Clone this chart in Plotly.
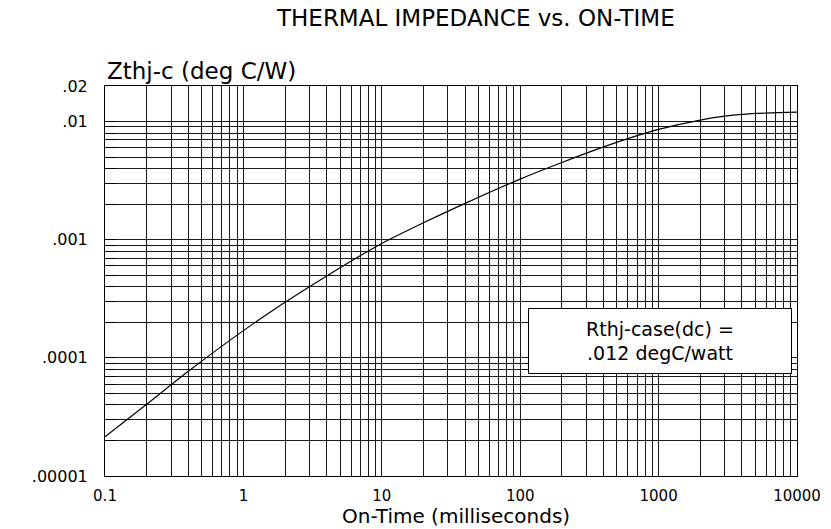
import plotly.graph_objects as go

# ---- data ----
on_time_ms = [0.1, 0.2, 0.4, 1, 2, 3, 5, 10, 20, 40, 100, 200, 400, 700, 1000, 2000, 3000, 4000, 6000, 10000]
zthjc = [2.15e-5, 4.05e-5, 7.7e-5, 1.70e-4, 2.95e-4, 4.0e-4, 5.8e-4, 9.3e-4, 1.39e-3, 2.03e-3,
         3.26e-3, 4.5e-3, 6.1e-3, 7.6e-3, 8.6e-3, 1.03e-2, 1.11e-2, 1.15e-2, 1.18e-2, 1.2e-2]

x_decades = [0.1, 1, 10, 100, 1000, 10000]
x_tick_labels = ["0.1", "1", "10", "100", "1000", "10000"]
y_decades = [1e-5, 1e-4, 1e-3, 1e-2, 2e-2]
y_tick_labels = [".00001", ".0001", ".001", ".01", ".02"]

title_text = "THERMAL IMPEDANCE vs. ON-TIME"
x_title = "On-Time (milliseconds)"
y_title = "Zthj-c (deg C/W)"
note_text = "Rthj-case(dc) =<br>.012 degC/watt"

# minor grid positions (1..9 per decade)
x_grid = sorted(set([round(m * d, 6) for d in x_decades[:-1] for m in range(1, 10)] + x_decades))
y_grid = sorted(set([m * d for d in [1e-5, 1e-4, 1e-3] for m in range(1, 10)] + y_decades))

def label_for(v, decades, labels):
    for d, l in zip(decades, labels):
        if abs(v - d) / d < 1e-6:
            return l
    return ""

x_text = [label_for(v, x_decades, x_tick_labels) for v in x_grid]
y_text = [label_for(v, y_decades, y_tick_labels) for v in y_grid]

FONT = "DejaVu Sans"

fig = go.Figure()
fig.add_trace(go.Scatter(
    x=on_time_ms, y=zthjc, mode="lines",
    line=dict(color="black", width=1.2, shape="spline", smoothing=0.8),
    showlegend=False, hoverinfo="skip"))

fig.update_layout(
    width=831, height=529,
    margin=dict(l=105, r=34, t=86, b=53, autoexpand=False),
    paper_bgcolor="white", plot_bgcolor="white",
    font=dict(family=FONT, color="black", size=15),
    showlegend=False,
)

fig.update_xaxes(
    type="log", range=[-1, 4], automargin=False,
    tickmode="array", tickvals=x_grid, ticktext=x_text,
    showgrid=True, gridcolor="#1a1a1a", gridwidth=1,
    showline=True, linecolor="black", linewidth=1, mirror=True,
    ticks="", tickfont=dict(size=15, family=FONT),
    ticklabelstandoff=6, zeroline=False,
)
fig.update_yaxes(
    type="log", range=[-5, 1.30103 - 3], automargin=False,
    tickmode="array", tickvals=y_grid, ticktext=y_text,
    showgrid=True, gridcolor="#1a1a1a", gridwidth=1,
    showline=True, linecolor="black", linewidth=1, mirror=True,
    ticks="inside", ticklen=10, tickcolor="black",
    tickfont=dict(size=16, family=FONT),
    ticklabelstandoff=13, zeroline=False,
)

fig.add_annotation(text=title_text, xref="paper", yref="paper", x=0.535, y=1,
                   xanchor="center", yanchor="middle", yshift=86 - 18,
                   showarrow=False, font=dict(size=23, family=FONT))
fig.add_annotation(text=y_title, xref="paper", yref="paper", x=0, y=1,
                   xanchor="left", yanchor="bottom", yshift=0, xshift=0,
                   showarrow=False, font=dict(size=23, family=FONT))
fig.add_annotation(text=x_title, xref="paper", yref="paper", x=0.507, y=0,
                   xanchor="center", yanchor="middle", yshift=-40,
                   showarrow=False, font=dict(size=20, family=FONT))
fig.add_annotation(text=note_text, xref="x", yref="y", x=3.01, y=-3.861,
                   xanchor="center", yanchor="middle", showarrow=False,
                   width=260, height=62, borderpad=1, borderwidth=1,
                   bordercolor="black", bgcolor="white", align="center",
                   font=dict(size=19, family=FONT))

fig.write_html("out.html", config={"displayModeBar": False},
               post_script="document.body.style.margin='0px';")
